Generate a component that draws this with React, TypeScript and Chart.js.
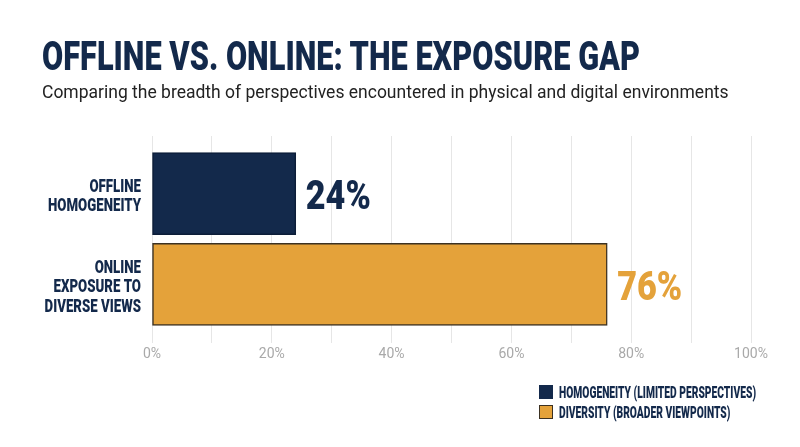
import React, { useEffect, useRef } from 'react';
import { Chart, registerables } from 'chart.js';

Chart.register(...registerables);

// ---------- data ----------
const TITLE = 'OFFLINE VS. ONLINE: THE EXPOSURE GAP';
const SUBTITLE = 'Comparing the breadth of perspectives encountered in physical and digital environments';
const categories: string[][] = [
  ['OFFLINE', 'HOMOGENEITY'],
  ['ONLINE', 'EXPOSURE TO', 'DIVERSE VIEWS'],
];
const seriesLabels = ['HOMOGENEITY (LIMITED PERSPECTIVES)', 'DIVERSITY (BROADER VIEWPOINTS)'];
const homogeneityValues: (number | null)[] = [24, null];
const diversityValues: (number | null)[] = [null, 76];
const xTickStep = 10;
const xLabelEvery = 20;

// ---------- styles ----------
const NAVY = '#13294b';
const ORANGE = '#e4a23a';
const NAVY_BORDER = '#0c1d38';
const ORANGE_BORDER = '#3b3122';
const COND_FAMILY = "Roboto, 'Liberation Sans Narrow', sans-serif";
const COND_WEIGHT = 900;
const Y_MIN = -0.634;
const Y_MAX = 1.645;

const condFont = (px: number) => `${COND_WEIGHT} ${px}px ${COND_FAMILY}`;
let measureCtx: CanvasRenderingContext2D | null = null;
function measure(text: string, px: number): number {
  if (!measureCtx) measureCtx = document.createElement('canvas').getContext('2d');
  measureCtx!.font = condFont(px);
  return measureCtx!.measureText(text).width;
}
const fitScale = (text: string, px: number, target: number) => target / measure(text, px);

function drawCond(
  ctx: CanvasRenderingContext2D,
  text: string,
  x: number,
  capCenterY: number,
  px: number,
  sx: number,
  color: string,
  align: CanvasTextAlign
) {
  ctx.save();
  ctx.font = condFont(px);
  ctx.fillStyle = color;
  ctx.textAlign = align;
  ctx.textBaseline = 'alphabetic';
  ctx.translate(x, capCenterY + (px * 0.711) / 2);
  ctx.scale(sx, 1);
  ctx.fillText(text, 0, 0);
  ctx.restore();
}

const toPoints = (vals: (number | null)[]) =>
  vals.map((v, i) => (v == null ? null : { x: v, y: i })).filter((p) => p !== null);

export default function App() {
  const canvasRef = useRef<HTMLCanvasElement>(null);

  const titleSx = fitScale(TITLE, 40, 599);
  const legendSx = fitScale(seriesLabels[0], 17, 197);

  useEffect(() => {
    const canvas = canvasRef.current!;
    const catSx = fitScale('HOMOGENEITY', 19, 93);
    const valSx = fitScale('24%', 41, 65);

    const labelPlugin = {
      id: 'customLabels',
      afterDraw(chart: any) {
        const ctx = chart.ctx as CanvasRenderingContext2D;
        const ys = chart.scales.y;
        const xs = chart.scales.x;
        const lh = 19.5;
        categories.forEach((lines, i) => {
          const cy = ys.getPixelForValue(i) + 1;
          const start = cy - ((lines.length - 1) * lh) / 2;
          lines.forEach((ln, j) => drawCond(ctx, ln, xs.left - 11, start + j * lh, 19, catSx, NAVY, 'right'));
        });
        chart.data.datasets.forEach((ds: any, di: number) => {
          const meta = chart.getDatasetMeta(di);
          meta.data.forEach((el: any, k: number) => {
            const p = ds.data[k];
            if (!p) return;
            drawCond(ctx, `${p.x}%`, el.x + 10, el.y + 1, 41, valSx, ds.backgroundColor, 'left');
          });
        });
      },
    };

    const chart = new Chart(canvas, {
      type: 'bar',
      data: {
        datasets: [
          {
            label: seriesLabels[0],
            data: toPoints(homogeneityValues) as any,
            backgroundColor: NAVY,
            borderColor: NAVY_BORDER,
            borderWidth: 1.5,
            borderSkipped: false,
            barThickness: 82,
            grouped: false,
          } as any,
          {
            label: seriesLabels[1],
            data: toPoints(diversityValues) as any,
            backgroundColor: ORANGE,
            borderColor: ORANGE_BORDER,
            borderWidth: 1.5,
            borderSkipped: false,
            barThickness: 82,
            grouped: false,
          } as any,
        ],
      },
      options: {
        indexAxis: 'y',
        responsive: false,
        animation: false,
        layout: { padding: { left: 152, right: 49, top: 136, bottom: 74 } },
        scales: {
          x: {
            type: 'linear',
            min: 0,
            max: 100,
            position: 'bottom',
            border: { display: false },
            grid: { color: '#e6e6e6', lineWidth: 1, drawTicks: false },
            ticks: {
              stepSize: xTickStep,
              autoSkip: false,
              maxRotation: 0,
              padding: 3,
              color: '#a9a9a9',
              font: { family: 'Roboto', size: 14 },
              callback: (v: any) => (Number(v) % xLabelEvery === 0 ? `${v}%` : ''),
            },
            afterFit: (s: any) => {
              s.height = 30;
            },
          },
          y: {
            type: 'linear',
            reverse: true,
            offset: false,
            grid: { offset: false },
            bounds: 'data',
            min: Y_MIN,
            max: Y_MAX,
            display: false,
            afterBuildTicks: (s: any) => {
              s.min = Y_MIN;
              s.max = Y_MAX;
            },
          },
        },
        plugins: {
          legend: { display: false },
          tooltip: { enabled: false },
        },
      } as any,
      plugins: [labelPlugin],
    });
    return () => chart.destroy();
  }, []);

  const legendColors = [
    { bg: NAVY, border: NAVY },
    { bg: ORANGE, border: ORANGE_BORDER },
  ];

  return (
    <div
      style={{
        position: 'fixed',
        left: 0,
        top: 0,
        width: 800,
        height: 447,
        background: '#ffffff',
        overflow: 'hidden',
      }}
    >
      <canvas ref={canvasRef} width={800} height={447} style={{ position: 'absolute', left: 0, top: 0 }} />
      <div
        style={{
          position: 'absolute',
          left: 42,
          top: 37,
          font: condFont(40),
          lineHeight: 1,
          color: NAVY,
          whiteSpace: 'nowrap',
          transform: `scaleX(${titleSx})`,
          transformOrigin: 'left top',
        }}
      >
        {TITLE}
      </div>
      <div
        style={{
          position: 'absolute',
          left: 42,
          top: 84,
          fontFamily: 'Roboto, sans-serif',
          fontSize: 17.5,
          lineHeight: 1,
          color: '#222222',
          whiteSpace: 'nowrap',
        }}
      >
        {SUBTITLE}
      </div>
      <div style={{ position: 'absolute', left: 539, top: 382 }}>
        {seriesLabels.map((lab, i) => (
          <div key={lab} style={{ display: 'flex', alignItems: 'center', height: 20 }}>
            <div
              style={{
                width: 14,
                height: 14,
                boxSizing: 'border-box',
                background: legendColors[i].bg,
                border: `1px solid ${legendColors[i].border}`,
                flex: '0 0 auto',
              }}
            />
            <div
              style={{
                marginLeft: 6,
                font: condFont(17),
                lineHeight: 1,
                color: NAVY,
                whiteSpace: 'nowrap',
                transform: `scaleX(${legendSx})`,
                transformOrigin: 'left center',
              }}
            >
              {lab}
            </div>
          </div>
        ))}
      </div>
    </div>
  );
}
